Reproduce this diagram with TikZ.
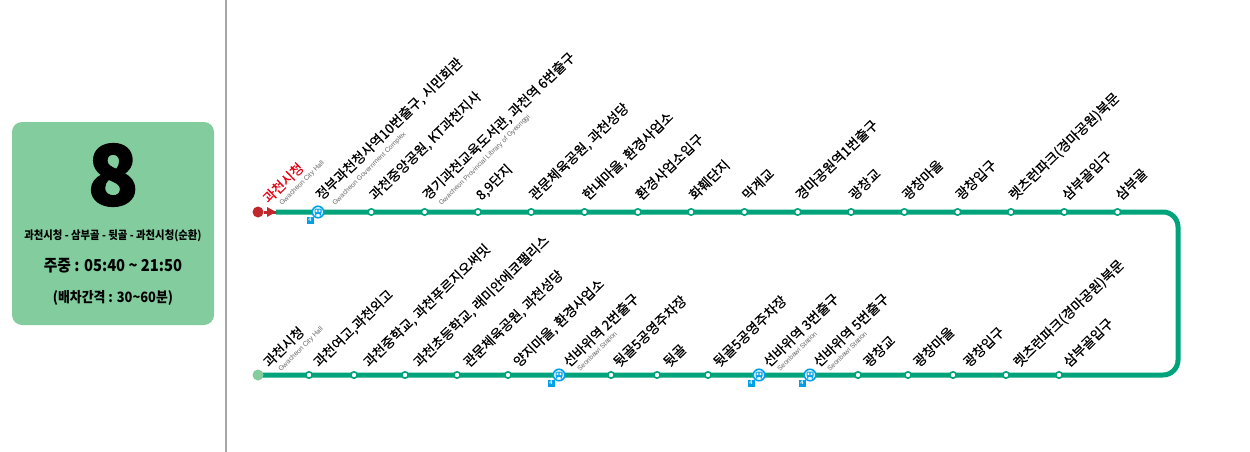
\documentclass[tikz,border=0pt]{standalone}
\usepackage{fontspec}
\setmainfont{Noto Sans CJK KR}
\newfontfamily\latinfont{Liberation Sans}
\newfontfamily\lblfont[FakeBold=0.5]{Noto Sans CJK KR}
\newfontfamily\panelfont[FakeStretch=0.9]{Noto Sans CJK KR}
\newfontfamily\numfont[BoldFeatures={FakeBold=2}]{Noto Sans CJK KR}
\usetikzlibrary{backgrounds}
\definecolor{routegreen}{HTML}{00A37A}
\definecolor{boxgreen}{HTML}{82CC9D}
\definecolor{startred}{HTML}{C1272D}
\definecolor{labelred}{HTML}{E60012}
\definecolor{metroblue}{HTML}{00A0E9}
\tikzset{
  stop/.style={circle, draw=routegreen, fill=white, line width=1.6pt, minimum size=6.4pt, inner sep=0pt},
  metrostop/.style={circle, draw=metroblue, fill=white, line width=1.6pt, minimum size=11.5pt, inner sep=0pt},
  firststop/.style={circle, fill=#1, minimum size=11pt, inner sep=0pt},
  route/.style={routegreen, line width=5pt, rounded corners=15pt},
  lbl/.style={yshift=11pt, rotate=44, anchor=base west, inner sep=0pt, font=\lblfont\fontsize{13.6}{14}\selectfont},
  sub/.style={yshift=6pt, rotate=45, anchor=base west, inner sep=0pt, text=black!60, font=\latinfont\fontsize{6.8}{7}\selectfont},
  metro/.pic={
    \fill [metroblue, rounded corners=1pt] (-3.5,-3.5) rectangle (3.5,2);
    \fill [metroblue] (-3,2) rectangle (-1.6,3.5) (1.6,2) rectangle (3,3.5);
    \fill [white] (-2.4,-2.4) rectangle (-0.6,0) (0.6,-2.4) rectangle (2.4,0);
    \node [fill=metroblue, text=white, inner sep=0pt, minimum size=7pt, font=\latinfont\bfseries\fontsize{5.5}{5.5}\selectfont] (-four) at (-8,8) {4};
  }
}
\begin{document}
\begin{tikzpicture}[x=1pt, y=-1pt, node distance=53.3pt]
  \useasboundingbox (0,0) rectangle (1250,452);
  % left panel
  \node [fill=boxgreen, rounded corners=10pt, minimum width=202pt, minimum height=203pt, inner sep=0pt] (panel) at (113,223.5) {};
  \node [font=\numfont\bfseries\fontsize{83}{83}\selectfont, inner sep=0pt] (number) at (113,175) {8};
  \node [font=\panelfont\bfseries\fontsize{11.5}{12}\selectfont, inner sep=0pt] (course) at (113,236) {과천시청 - 삼부골 - 뒷골 - 과천시청(순환)};
  \node [font=\panelfont\bfseries\fontsize{16.4}{17}\selectfont, inner sep=0pt] (hours) at (113,266) {주중 : 05:40 \textasciitilde{} 21:50};
  \node [font=\panelfont\bfseries\fontsize{14.3}{15}\selectfont, inner sep=0pt] (interval) at (113,298) {(배차간격 : 30\textasciitilde{}60분)};
  \coordinate (ruletop) at (226,0);
  \coordinate (rulebot) at (226,452);
  \draw [black!35, line width=1.2pt] (ruletop) -- (rulebot);

  % top row
  \node [firststop=startred] (top1) at (258,212) {};
  \node [inner sep=0pt] (tip) at (276,212) {};
  \node [metrostop, node distance=60pt] (top2) [right of=top1] {};
  \node [stop] (top3) [right of=top2] {};
  \node [stop] (top4) [right of=top3] {};
  \node [stop] (top5) [right of=top4] {};
  \node [stop] (top6) [right of=top5] {};
  \node [stop] (top7) [right of=top6] {};
  \node [stop] (top8) [right of=top7] {};
  \node [stop] (top9) [right of=top8] {};
  \node [stop] (top10) [right of=top9] {};
  \node [stop] (top11) [right of=top10] {};
  \node [stop] (top12) [right of=top11] {};
  \node [stop] (top13) [right of=top12] {};
  \node [stop] (top14) [right of=top13] {};
  \node [stop] (top15) [right of=top14] {};
  \node [stop] (top16) [right of=top15] {};
  \node [stop] (top17) [right of=top16] {};

  \node [lbl, text=labelred] (toptext1) at (268.5,215) {과천시청};
  \node [lbl] (toptext2) at (321.5,212) {정부과천청사역10번출구, 시민회관};
  \node [lbl] (toptext3) at (374.8,212) {과천중앙공원, KT과천지사};
  \node [lbl] (toptext4) at (428.1,212) {경기과천교육도서관, 과천역 6번출구};
  \node [lbl] (toptext5) at (481.4,212) {8,9단지};
  \node [lbl] (toptext6) at (534.7,212) {관문체육공원, 과천성당};
  \node [lbl] (toptext7) at (588,212) {한내마을, 환경사업소};
  \node [lbl] (toptext8) at (641.3,212) {환경사업소입구};
  \node [lbl] (toptext9) at (694.6,212) {화훼단지};
  \node [lbl] (toptext10) at (747.9,212) {막계교};
  \node [lbl] (toptext11) at (801.2,212) {경마공원역1번출구};
  \node [lbl] (toptext12) at (854.5,212) {광창교};
  \node [lbl] (toptext13) at (907.8,212) {광창마을};
  \node [lbl] (toptext14) at (961.1,212) {광창입구};
  \node [lbl] (toptext15) at (1014.4,212) {렛츠런파크(경마공원)북문};
  \node [lbl] (toptext16) at (1067.7,212) {삼부골입구};
  \node [lbl] (toptext17) at (1121,212) {삼부골};

  \node [sub] (topsub1) at ([xshift=24pt]top1) {Gwacheon City Hall};
  \node [sub] (topsub2) at ([xshift=17pt]top2) {Gwacheon Government Complex};
  \node [sub] (topsub4) at ([xshift=17pt]top4) {Gwacheon Provincial Library of Gyeonggi};

  % bottom row
  \node [firststop=boxgreen] (bot1) at (258,375) {};
  \node [stop, node distance=51pt] (bot2) [right of=bot1] {};
  \node [stop, node distance=45pt] (bot3) [right of=bot2] {};
  \node [stop, node distance=51pt] (bot4) [right of=bot3] {};
  \node [stop, node distance=52pt] (bot5) [right of=bot4] {};
  \node [stop, node distance=51pt] (bot6) [right of=bot5] {};
  \node [metrostop, node distance=51pt] (bot7) [right of=bot6] {};
  \node [stop, node distance=52pt] (bot8) [right of=bot7] {};
  \node [stop, node distance=46pt] (bot9) [right of=bot8] {};
  \node [stop, node distance=51pt] (bot10) [right of=bot9] {};
  \node [metrostop, node distance=51pt] (bot11) [right of=bot10] {};
  \node [metrostop, node distance=51pt] (bot12) [right of=bot11] {};
  \node [stop, node distance=48pt] (bot13) [right of=bot12] {};
  \node [stop, node distance=50pt] (bot14) [right of=bot13] {};
  \node [stop, node distance=45pt] (bot15) [right of=bot14] {};
  \node [stop, node distance=53pt] (bot16) [right of=bot15] {};
  \node [stop, node distance=53pt] (bot17) [right of=bot16] {};

  \node [lbl] (bottext1) at (269,379) {과천시청};
  \node [lbl] (bottext2) at (319,379) {과천여고,과천외고};
  \node [lbl] (bottext3) at (369,379) {과천중학교, 과천푸르지오써밋};
  \node [lbl] (bottext4) at (419,379) {과천초등학교, 래미안에코팰리스};
  \node [lbl] (bottext5) at (469,379) {관문체육공원, 과천성당};
  \node [lbl] (bottext6) at (519,379) {양지마을, 환경사업소};
  \node [lbl] (bottext7) at (569,379) {선바위역 2번출구};
  \node [lbl] (bottext8) at (619,379) {뒷골5공영주차장};
  \node [lbl] (bottext9) at (669,379) {뒷골};
  \node [lbl] (bottext10) at (719,379) {뒷골5공영주차장};
  \node [lbl] (bottext11) at (769,379) {선바위역 3번출구};
  \node [lbl] (bottext12) at (819,379) {선바위역 5번출구};
  \node [lbl] (bottext13) at (869,379) {광창교};
  \node [lbl] (bottext14) at (919,379) {광창마을};
  \node [lbl] (bottext15) at (969,379) {광창입구};
  \node [lbl] (bottext16) at (1019,379) {렛츠런파크(경마공원)북문};
  \node [lbl] (bottext17) at (1069,379) {삼부골입구};

  \node [sub] (botsub1) at ([xshift=23pt,yshift=-3pt]bot1) {Gwacheon City Hall};
  \node [sub] (botsub7) at ([xshift=21pt,yshift=-3pt]bot7) {Seonbawi Station};
  \node [sub] (botsub11) at ([xshift=21pt,yshift=-3pt]bot11) {Seonbawi Station};
  \node [sub] (botsub12) at ([xshift=20pt,yshift=-3pt]bot12) {Seonbawi Station};

  % subway marks
  \pic (metro1) at (top2) {metro};
  \pic (metro2) at (bot7) {metro};
  \pic (metro3) at (bot11) {metro};
  \pic (metro4) at (bot12) {metro};

  % route
  \coordinate (cornertop) at (1178,212);
  \coordinate (cornerbot) at (1178,375);
  \begin{pgfonlayer}{background}
    \draw [route] (tip.center) -- (cornertop) -- (cornerbot) -- (bot1.center);
  \end{pgfonlayer}
  \draw [startred, line width=3pt] (top1) -- (tip.center);
  \fill [startred] (tip.center) -- ++(-9,-5) -- ++(0,10) -- cycle;
\end{tikzpicture}
\end{document}
